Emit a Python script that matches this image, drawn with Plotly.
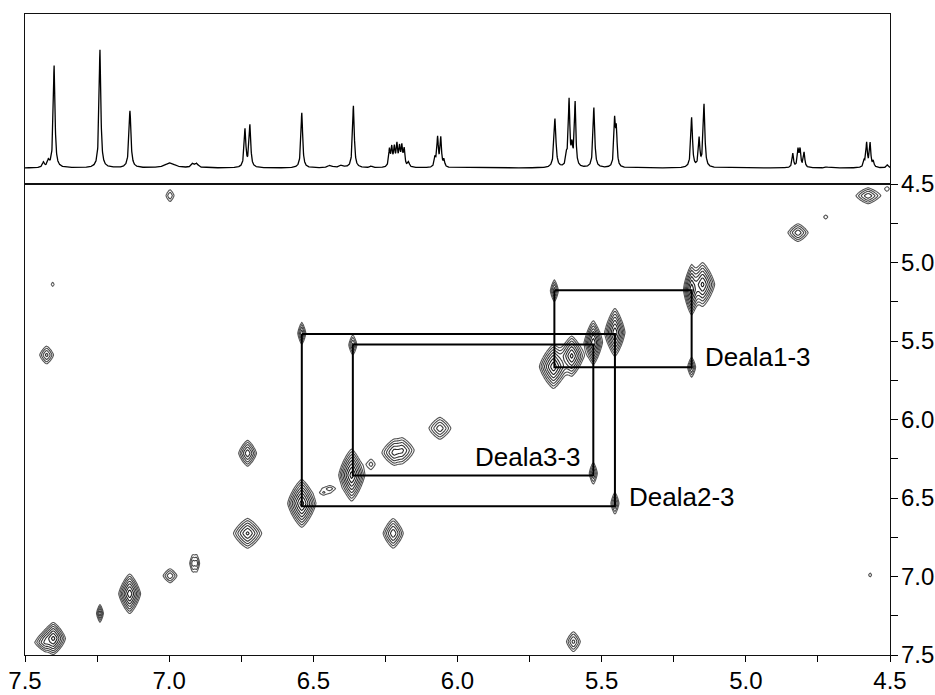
import numpy as np
import plotly.graph_objects as go

# ---------------- 1D projection (F2) : line positions (ppm), heights, half-widths (ppm)
h1_ppm = [7.436, 7.419, 7.399, 7.240, 7.136, 6.997, 6.918, 6.904, 6.737, 6.720,
          6.540, 6.442, 6.402, 6.361, 6.300,
          6.236, 6.228, 6.219, 6.210, 6.201, 6.193, 6.185, 6.170,
          6.078, 6.069, 6.058, 6.047,
          5.662, 5.622, 5.613, 5.603, 5.592, 5.527, 5.455, 5.449,
          5.188, 5.162, 5.145,
          4.837, 4.819, 4.812, 4.798, 4.720,
          4.590, 4.581, 4.569, 4.558, 4.509]
h1_height = [5, 6, 102, 118, 57, 5, 4, 4, 38, 42,
             55, 2.5, 2.5, 62, 1.5,
             17, 18, 18, 21, 18, 19, 17, 5,
             9, 29, 29, 7,
             49, 10, 66, 18, 64, 60, 45, 35,
             50, 28, 63,
             14, 17, 17, 15, 1,
             6, 24, 24, 6, 3]
h1_hw = [0.004, 0.004, 0.0035, 0.0035, 0.004, 0.02, 0.006, 0.006, 0.0035, 0.0035,
         0.0035, 0.008, 0.008, 0.0035, 0.005,
         0.003, 0.003, 0.003, 0.003, 0.003, 0.003, 0.003, 0.004,
         0.003, 0.003, 0.003, 0.003,
         0.004, 0.003, 0.003, 0.003, 0.003, 0.0035, 0.003, 0.003,
         0.0035, 0.003, 0.0035,
         0.003, 0.003, 0.003, 0.003, 0.005,
         0.003, 0.003, 0.003, 0.003, 0.004]

# ---------------- 2D COSY peaks: F2 (x), F1 (y), intensity, outer contour half-extent (ppm)
c_f2 = [7.402, 7.430, 7.240, 7.137, 6.997, 6.918, 6.905, 6.728, 6.540, 6.367,
        6.220, 6.192, 6.061, 5.667, 5.604, 5.529, 5.454, 5.188, 5.150, 4.819,
        4.576, 6.465, 6.442, 6.300, 4.723, 4.510,
        5.664, 5.188, 6.540, 5.454, 6.363, 5.529, 6.728, 6.223, 7.425, 5.598,
        6.997, 4.569, 7.404]
c_f1 = [7.394, 7.420, 7.235, 7.110, 6.995, 6.916, 6.916, 6.725, 6.534, 6.354,
        6.212, 6.195, 6.056, 5.663, 5.595, 5.510, 5.445, 5.175, 5.140, 4.810,
        4.575, 6.466, 6.440, 6.285, 4.710, 4.530,
        5.180, 5.667, 5.451, 6.534, 5.525, 6.343, 6.215, 6.725, 5.589, 7.415,
        4.574, 6.990, 5.139]
c_amp = [20, 6, 6, 25, 4, 3, 3, 12, 35, 35,
         7, 6, 6, 25, 20, 25, 25, 25, 20, 6,
         6, 1.5, 2, 2, 1.3, 1.3,
         6, 5, 6, 5, 5, 5, 10, 10, 5, 5,
         2.5, 1.3, 1.3]
c_ext2 = [0.042, 0.035, 0.012, 0.038, 0.024, 0.010, 0.010, 0.049, 0.049, 0.045,
          0.040, 0.040, 0.038, 0.049, 0.042, 0.031, 0.035, 0.028, 0.042, 0.035,
          0.042, 0.010, 0.017, 0.014, 0.007, 0.007,
          0.014, 0.014, 0.014, 0.014, 0.014, 0.014, 0.031, 0.035, 0.024, 0.024,
          0.014, 0.005, 0.005]
c_ext1 = [0.102, 0.051, 0.057, 0.127, 0.045, 0.051, 0.051, 0.095, 0.153, 0.166,
          0.075, 0.075, 0.070, 0.140, 0.127, 0.140, 0.153, 0.159, 0.140, 0.057,
          0.051, 0.013, 0.019, 0.032, 0.013, 0.013,
          0.070, 0.064, 0.070, 0.070, 0.064, 0.070, 0.083, 0.095, 0.057, 0.064,
          0.038, 0.013, 0.013]

# ---------------- assignment boxes (F2 pair, F1 pair) and their labels
box_names = ["Deala1-3", "Deala2-3", "Deala3-3"]
box_f2 = [(5.664, 5.188), (6.540, 5.454), (6.363, 5.529)]
box_f1 = [(5.177, 5.667), (5.455, 6.552), (5.522, 6.357)]

# ---------------- build spectra
x1 = np.round(np.arange(4.5, 7.5 + 1e-9, 0.0005), 4)
spec = np.zeros_like(x1)
for p, h, w in zip(h1_ppm, h1_height, h1_hw):
    spec += h / (1 + ((x1 - p) / w) ** 2)

L0 = 1.0
RATIO = 1.6
Q = 1.3
xg = np.round(np.arange(4.5, 7.5 + 1e-9, 0.004), 4)
yg = np.round(np.arange(4.5, 7.5 + 1e-9, 0.005), 4)
X, Y = np.meshgrid(xg, yg)
field = np.zeros_like(X)
for px, py, a, ex, ey in zip(c_f2, c_f1, c_amp, c_ext2, c_ext1):
    k = np.log(a / L0) ** (1 / Q)
    wx, wy = ex / k, ey / k
    field += a * np.exp(-(np.abs((X - px) / wx) ** Q + np.abs((Y - py) / wy) ** Q))
Z = np.round(np.log10(field + 1e-4), 3)

FONT = "Liberation Sans, Arial, sans-serif"
fig = go.Figure()

fig.add_trace(go.Contour(
    x=xg, y=yg, z=Z, xaxis="x", yaxis="y",
    contours=dict(coloring="lines", start=0.0, end=1.7, size=np.log10(RATIO)),
    line=dict(width=1.1, smoothing=1),
    colorscale=[[0, "#555555"], [1, "#000000"]],
    showscale=False, hoverinfo="skip"))

for name, bx, by in zip(box_names, box_f2, box_f1):
    fig.add_trace(go.Scatter(
        x=[bx[0], bx[1], bx[1], bx[0], bx[0]],
        y=[by[0], by[0], by[1], by[1], by[0]],
        mode="lines", line=dict(color="black", width=2),
        xaxis="x", yaxis="y", hoverinfo="skip", showlegend=False))

fig.add_trace(go.Scatter(x=x1, y=spec, mode="lines",
                         line=dict(color="black", width=1.3),
                         xaxis="x2", yaxis="y2", hoverinfo="skip", showlegend=False))

label_pos = {"Deala1-3": (5.149, 5.602), "Deala2-3": (5.412, 6.494), "Deala3-3": (5.946, 6.237)}
for name in box_names:
    lx, ly = label_pos[name]
    fig.add_annotation(x=lx, y=ly, xref="x", yref="y", text=name, showarrow=False,
                       xanchor="left", yanchor="middle",
                       font=dict(family=FONT, size=26, color="black"))

split = 471 / 641
axis_common = dict(showgrid=False, zeroline=False, linecolor="#111111", linewidth=1.3,
                   automargin=False)
fig.update_layout(
    width=935, height=695, margin=dict(l=25, r=45, t=14, b=40),
    paper_bgcolor="white", plot_bgcolor="white", showlegend=False,
    font=dict(family=FONT, size=24, color="black"),
    xaxis=dict(domain=[0, 1], range=[7.5, 4.5], anchor="y", tick0=4.5, dtick=0.5,
               tickformat=".1f", ticks="outside", ticklen=6, tickwidth=1.2, tickcolor="black",
               showline=True, mirror=True, ticklabelstandoff=-2,
               minor=dict(dtick=0.25, ticks="outside", ticklen=6, tickwidth=1.2, tickcolor="black"),
               tickfont=dict(size=24), **axis_common),
    yaxis=dict(domain=[0, split], range=[7.5, 4.5], anchor="x", side="right", tick0=4.5, dtick=0.5,
               tickformat=".1f", ticks="outside", ticklen=7, tickwidth=1.2, tickcolor="black",
               showline=True, mirror=True, ticklabelstandoff=-2,
               minor=dict(dtick=0.25, ticks="outside", ticklen=7, tickwidth=1.2, tickcolor="black"),
               tickfont=dict(size=24), **axis_common),
    xaxis2=dict(domain=[0, 1], range=[7.5, 4.5], anchor="y2", matches="x", showticklabels=False,
                ticks="", showline=True, mirror=True, **axis_common),
    yaxis2=dict(domain=[split, 1], range=[-16, 154], anchor="x2", showticklabels=False,
                ticks="", showline=True, mirror=True, **axis_common),
)

# remove the default page margin so the 935x695 figure fills the window exactly
fig.write_html("out.html", config={"displayModeBar": False},
               post_script="document.body.style.margin='0px';")
